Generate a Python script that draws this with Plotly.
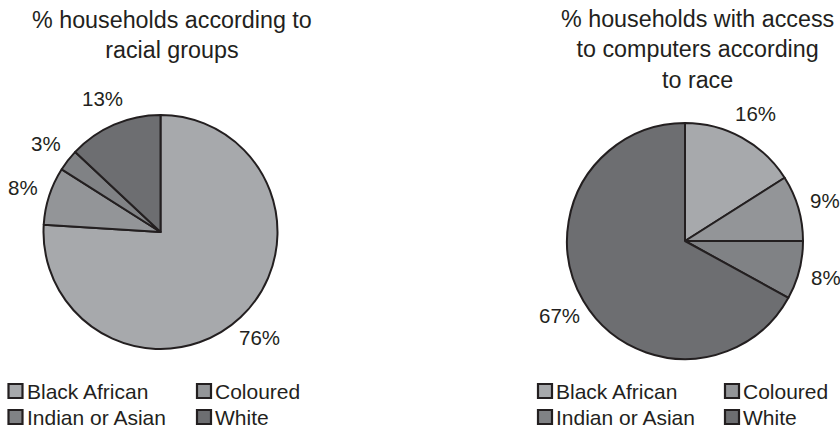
import math
import plotly.graph_objects as go

# Racial groups (shared by both charts)
groups = ["Black African", "Coloured", "Indian or Asian", "White"]
# Share of households per group (%)
households_pct = [76, 8, 3, 13]
# Share of households with access to computers per group (%)
computer_pct = [16, 9, 8, 67]

titles = [
    "% households according to<br>racial groups",
    "% households with access<br>to computers according<br>to race",
]

slice_colors = ["#a7a9ac", "#939598", "#808285", "#6d6e71"]
ink = "#231f20"
font_family = "Liberation Sans, Arial, sans-serif"

W, H = 840, 429


def fx(px):
    return px / W


def fy(py):
    return 1 - py / H


# Pie placement in pixels: (left, right, top, bottom)
pie_boxes = [(43, 278, 115, 349), (567, 803, 123, 359)]

fig = go.Figure()
annotations = []
shapes = []

for values, (left, right, top, bottom) in zip([households_pct, computer_pct], pie_boxes):
    fig.add_trace(go.Pie(
        labels=groups,
        values=values,
        sort=False,
        direction="clockwise",
        rotation=0,
        marker=dict(colors=slice_colors, line=dict(color=ink, width=2)),
        textinfo="none",
        domain=dict(x=[fx(left), fx(right)], y=[fy(bottom), fy(top)]),
        showlegend=False,
        hoverinfo="label+value",
    ))

    # Percentage labels placed just outside each slice, along its mid-angle
    cx, cy = (left + right) / 2, (top + bottom) / 2
    r = min(right - left, bottom - top) / 2
    total = sum(values)
    start = 0.0
    for v in values:
        mid = (start + v / 2) / total * 2 * math.pi
        start += v
        dist = r + 28
        lx = cx + dist * math.sin(mid)
        ly = cy - dist * math.cos(mid)
        annotations.append(dict(
            text=f"{v}%", x=fx(lx), y=fy(ly), xref="paper", yref="paper",
            xanchor="center", yanchor="middle", showarrow=False,
            font=dict(family=font_family, size=20.5, color=ink),
        ))

# Chart titles
for text, tx, ty in [(titles[0], 172, 35), (titles[1], 697, 49)]:
    annotations.append(dict(
        text=text, x=fx(tx), y=fy(ty), xref="paper", yref="paper",
        xanchor="center", yanchor="middle", showarrow=False,
        font=dict(family=font_family, size=23.3, color=ink),
    ))

# Two-column legend under each chart
legend_cols = [[15.5, 204], [545, 732]]
legend_rows = [391, 417]
for cols in legend_cols:
    for i, name in enumerate(groups):
        sx = cols[i % 2]
        sy = legend_rows[i // 2]
        shapes.append(dict(
            type="rect", xref="paper", yref="paper",
            x0=fx(sx - 7), x1=fx(sx + 7), y0=fy(sy + 7), y1=fy(sy - 7),
            fillcolor=slice_colors[i], line=dict(color=ink, width=2.2),
        ))
        annotations.append(dict(
            text=name, x=fx(sx + 9), y=fy(sy), xref="paper", yref="paper",
            xanchor="left", yanchor="middle", showarrow=False,
            font=dict(family=font_family, size=21, color=ink),
        ))

fig.update_layout(
    width=W, height=H,
    margin=dict(l=0, r=0, t=0, b=0, autoexpand=False),
    paper_bgcolor="white", plot_bgcolor="white",
    annotations=annotations, shapes=shapes,
    showlegend=False,
)

fig.write_html("out.html")
